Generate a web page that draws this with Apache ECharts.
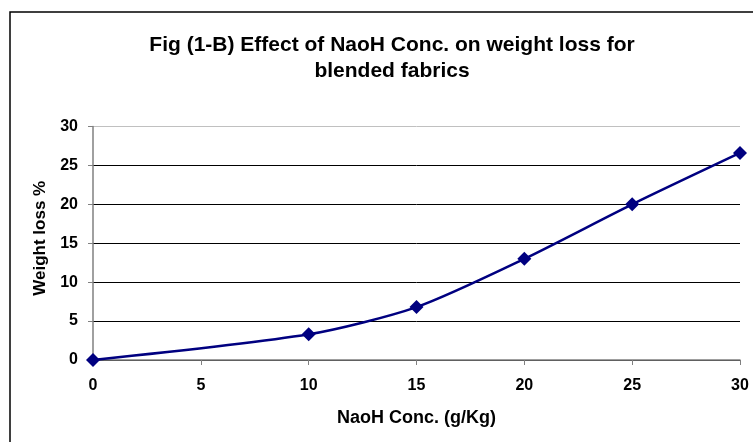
<!DOCTYPE html>
<html>
<head>
<meta charset="utf-8">
<script src="https://cdn.jsdelivr.net/npm/echarts@6/dist/echarts.min.js"></script>
<style>
  html, body { margin: 0; padding: 0; background: #fff; }
  #main { width: 753px; height: 442px; }
</style>
</head>
<body>
<div id="main"></div>
<script>
const concentration = [0, 10, 15, 20, 25, 30];
const weightLoss = [0, 3.3, 6.8, 13.0, 20.0, 26.6];

const chart = echarts.init(document.getElementById("main"));
const font = "Liberation Sans, Arial, sans-serif";

chart.setOption({
  backgroundColor: "#fff",
  animation: false,
  graphic: [{
    type: "rect",
    shape: { x: 10, y: 12, width: 760, height: 450 },
    style: { fill: "none", stroke: "#000", lineWidth: 1.5 }
  }],
  title: {
    text: "Fig (1-B) Effect of NaoH Conc. on weight loss for\nblended fabrics",
    left: 387,
    top: 27,
    textAlign: "center",
    textStyle: { fontFamily: font, fontSize: 21, fontWeight: "bold", color: "#000", lineHeight: 26 }
  },
  grid: { left: 93, right: 13, top: 126.5, bottom: 82 },
  xAxis: {
    type: "value",
    min: 0, max: 30, interval: 5,
    name: "NaoH Conc. (g/Kg)",
    nameLocation: "middle",
    nameGap: 49,
    nameTextStyle: { fontFamily: font, fontSize: 18, fontWeight: "bold", color: "#000" },
    axisLine: { lineStyle: { color: "#808080", width: 1.5 } },
    axisTick: { show: true, length: 5, lineStyle: { color: "#808080" } },
    axisLabel: { fontFamily: font, fontSize: 16, fontWeight: "bold", color: "#000", margin: 18 },
    splitLine: { show: false }
  },
  yAxis: {
    type: "value",
    min: 0, max: 30, interval: 5,
    name: "Weight loss %",
    nameLocation: "middle",
    nameGap: 42,
    nameTextStyle: { fontFamily: font, fontSize: 17, fontWeight: "bold", color: "#000", padding: [0, 0, 0, 10] },
    axisLine: { show: true, lineStyle: { color: "#808080", width: 1.5 } },
    axisTick: { show: true, length: 5, lineStyle: { color: "#808080" } },
    axisLabel: { fontFamily: font, fontSize: 16, fontWeight: "bold", color: "#000", margin: 15 },
    splitLine: {
      show: true,
      lineStyle: { color: ["#000", "#000", "#000", "#000", "#000", "#000", "#c0c0c0"], width: 1 }
    }
  },
  series: [{
    type: "line",
    data: concentration.map((c, i) => [c, weightLoss[i]]),
    smooth: 0.25,
    symbol: "diamond",
    symbolSize: 14,
    lineStyle: { color: "#000080", width: 2.5 },
    itemStyle: { color: "#000080" }
  }]
});
</script>
</body>
</html>
